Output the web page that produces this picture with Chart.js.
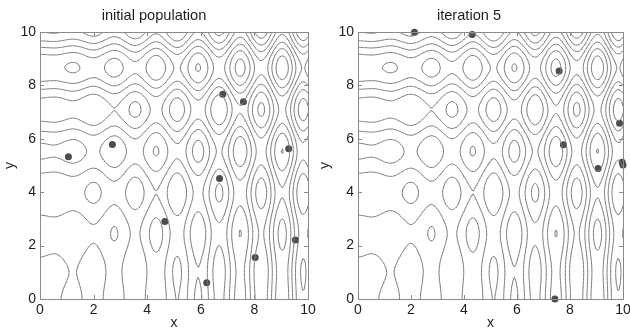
<!DOCTYPE html>
<html>
<head>
<meta charset="utf-8">
<script src="https://cdn.jsdelivr.net/npm/chart.js@4.4.1/dist/chart.umd.min.js"></script>
<style>
  html, body { margin: 0; padding: 0; background: #fff; }
  #wrap { position: relative; width: 630px; height: 334px; overflow: hidden; }
  #left { position: absolute; left: 0; top: 0; }
  #right { position: absolute; left: 315px; top: 0; }
</style>
</head>
<body>
<div id="wrap">
  <canvas id="left" width="320" height="334" style="width:320px;height:334px"></canvas>
  <canvas id="right" width="315" height="334" style="width:315px;height:334px"></canvas>
</div>
<script>
(function () {
  "use strict";

  // Axis ticks and contour levels
  const X_TICKS = [0, 2, 4, 6, 8, 10];
  const Y_TICKS = [0, 2, 4, 6, 8, 10];
  const CONTOUR_LEVELS = [-15, -10, -5, 0, 5, 10, 15];

  // Population members
  const INIT_X = [1.06, 2.70, 6.82, 7.59, 9.28, 6.70, 4.66, 9.53, 8.03, 6.22];
  const INIT_Y = [5.33, 5.79, 7.67, 7.39, 5.63, 4.51, 2.90, 2.21, 1.55, 0.61];
  const ITER5_X = [2.13, 4.31, 7.59, 9.87, 7.75, 9.06, 10.0, 9.97, 7.43];
  const ITER5_Y = [9.99, 9.91, 8.54, 6.58, 5.78, 4.89, 5.02, 5.12, 0.0];

  const TITLES = ["initial population", "iteration 5"];

  // The cost surface drawn as contours in both panels
  function surface(x, y) {
    return x * Math.sin(4 * x) + 1.1 * y * Math.sin(2 * y);
  }

  const FONT = { family: "'Liberation Sans', Arial, sans-serif", size: 14 };
  const INK = "#1e1e1e";
  const GRID_STEPS = 200;

  // sample the surface once, then marching squares per level
  const h = 10 / GRID_STEPS;
  const field = [];
  for (let j = 0; j <= GRID_STEPS; j++) {
    const row = [];
    for (let i = 0; i <= GRID_STEPS; i++) row.push(surface(i * h, j * h));
    field.push(row);
  }

  function contourSegments(level) {
    const out = [];
    const gap = { x: NaN, y: NaN };
    for (let j = 0; j < GRID_STEPS; j++) {
      for (let i = 0; i < GRID_STEPS; i++) {
        const x0 = i * h, y0 = j * h, x1 = x0 + h, y1 = y0 + h;
        const a = field[j][i], b = field[j][i + 1], c = field[j + 1][i + 1], d = field[j + 1][i];
        const code = (a > level ? 1 : 0) | (b > level ? 2 : 0) | (c > level ? 4 : 0) | (d > level ? 8 : 0);
        if (code === 0 || code === 15) continue;
        const E = {
          B: () => ({ x: x0 + h * (level - a) / (b - a), y: y0 }),
          R: () => ({ x: x1, y: y0 + h * (level - b) / (c - b) }),
          T: () => ({ x: x0 + h * (level - d) / (c - d), y: y1 }),
          L: () => ({ x: x0, y: y0 + h * (level - a) / (d - a) })
        };
        const mid = (a + b + c + d) / 4 > level;
        let pairs;
        switch (code) {
          case 1: case 14: pairs = ["BL"]; break;
          case 2: case 13: pairs = ["BR"]; break;
          case 3: case 12: pairs = ["LR"]; break;
          case 4: case 11: pairs = ["RT"]; break;
          case 6: case 9: pairs = ["BT"]; break;
          case 7: case 8: pairs = ["LT"]; break;
          case 5: pairs = mid ? ["BR", "TL"] : ["BL", "RT"]; break;
          case 10: pairs = mid ? ["BL", "RT"] : ["BR", "TL"]; break;
        }
        pairs.forEach((p) => { out.push(E[p[0]](), E[p[1]](), gap); });
      }
    }
    return out;
  }

  const contourData = CONTOUR_LEVELS.map(contourSegments);

  const boxPlugin = {
    id: "box",
    afterDatasetsDraw(chart) {
      const { ctx, chartArea: a, scales } = chart;
      ctx.save();
      ctx.strokeStyle = "#8a8a8a";
      ctx.lineWidth = 1;
      ctx.strokeRect(Math.round(a.left) + 0.5, Math.round(a.top) + 0.5,
        Math.round(a.right - a.left), Math.round(a.bottom - a.top));
      ctx.beginPath();
      X_TICKS.forEach((v) => {
        const px = Math.round(scales.x.getPixelForValue(v)) + 0.5;
        ctx.moveTo(px, a.bottom); ctx.lineTo(px, a.bottom - 4);
        ctx.moveTo(px, a.top); ctx.lineTo(px, a.top + 4);
      });
      Y_TICKS.forEach((v) => {
        const py = Math.round(scales.y.getPixelForValue(v)) + 0.5;
        ctx.moveTo(a.left, py); ctx.lineTo(a.left + 4, py);
        ctx.moveTo(a.right, py); ctx.lineTo(a.right - 4, py);
      });
      ctx.stroke();
      // axis labels
      ctx.fillStyle = INK;
      ctx.font = FONT.size + "px " + FONT.family;
      ctx.textAlign = "center";
      ctx.textBaseline = "middle";
      ctx.fillText("x", (a.left + a.right) / 2, 323);
      ctx.translate(10, (a.top + a.bottom) / 2);
      ctx.rotate(-Math.PI / 2);
      ctx.fillText("y", 0, 0);
      ctx.restore();
    }
  };

  function makePanel(canvasId, title, xs, ys, yAxisWidth, padRight) {
    const datasets = contourData.map((segs) => ({
      type: "scatter",
      data: segs,
      showLine: true,
      spanGaps: false,
      borderColor: "#7a7a7a",
      borderWidth: 1,
      pointRadius: 0,
      pointHoverRadius: 0
    }));
    datasets.push({
      type: "scatter",
      data: xs.map((x, i) => ({ x: x, y: ys[i] })),
      backgroundColor: "#4c4c4c",
      borderWidth: 0,
      pointRadius: 3.5,
      clip: false
    });

    return new Chart(document.getElementById(canvasId), {
      type: "scatter",
      data: { datasets: datasets },
      plugins: [boxPlugin],
      options: {
        responsive: false,
        animation: false,
        events: [],
        layout: { padding: { left: 0, right: padRight, top: 0, bottom: 0 } },
        plugins: {
          legend: { display: false },
          tooltip: { enabled: false },
          title: {
            display: true,
            text: title,
            color: INK,
            font: { family: FONT.family, size: 14.6, weight: "normal", lineHeight: 1.2 },
            padding: { top: 7, bottom: 7.5 }
          }
        },
        scales: {
          x: {
            type: "linear", min: 0, max: 10,
            grid: { display: false, drawTicks: false },
            border: { display: false },
            ticks: { color: INK, font: FONT, padding: 3, maxRotation: 0 },
            afterBuildTicks: (s) => { s.ticks = X_TICKS.map((v) => ({ value: v })); },
            afterFit: (s) => { s.height = 35; s.paddingLeft = 0; s.paddingRight = 0; }
          },
          y: {
            type: "linear", min: 0, max: 10,
            grid: { display: false, drawTicks: false },
            border: { display: false },
            ticks: { color: INK, font: FONT, padding: 4 },
            afterBuildTicks: (s) => { s.ticks = Y_TICKS.map((v) => ({ value: v })); },
            afterFit: (s) => { s.width = yAxisWidth; s.paddingTop = 0; s.paddingBottom = 0; }
          }
        }
      }
    });
  }

  makePanel("left", TITLES[0], INIT_X, INIT_Y, 40, 12);
  makePanel("right", TITLES[1], ITER5_X, ITER5_Y, 43, 7);
})();
</script>
</body>
</html>
